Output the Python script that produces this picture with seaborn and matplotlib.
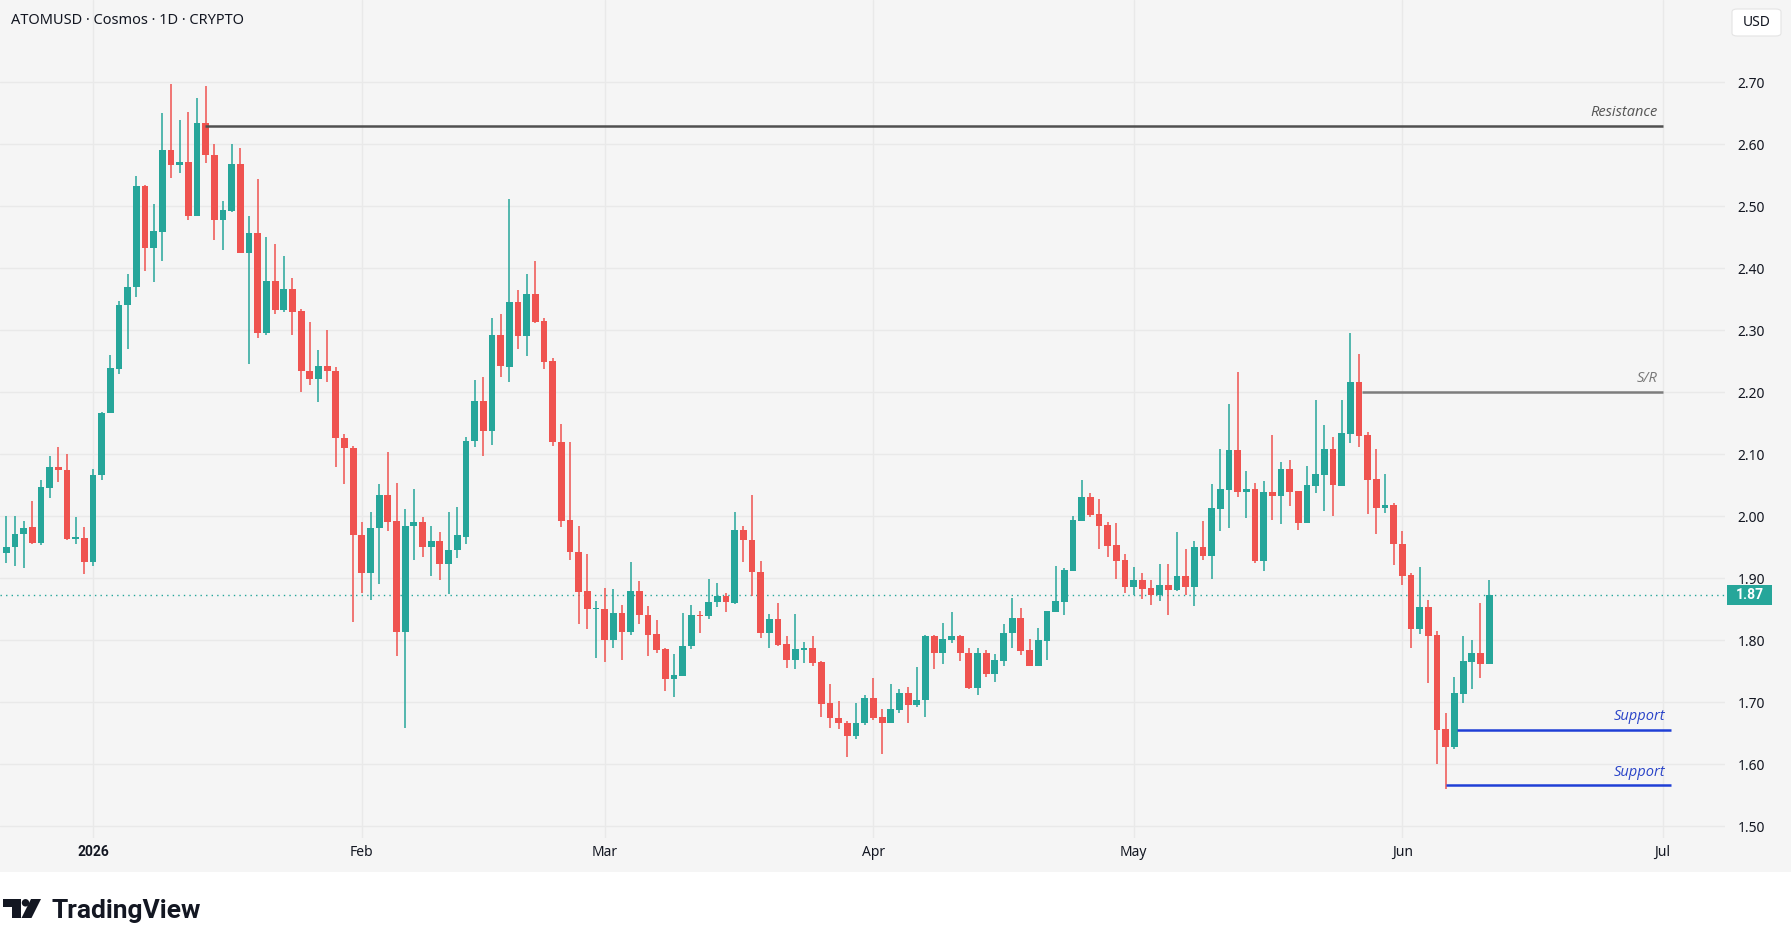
import pandas as pd
import matplotlib.pyplot as plt
import matplotlib.dates as mdates
import matplotlib.transforms as mtransforms
from matplotlib.patches import Rectangle, FancyBboxPatch, Polygon, Ellipse
import seaborn as sns

# --- DATA: ATOMUSD daily candles ---
start_date = "2025-12-22"

opens = [1.941, 1.950, 1.971, 1.983, 1.957, 2.046, 2.080, 2.075, 1.964, 1.965,
         1.927, 2.066, 2.166, 2.238, 2.340, 2.369, 2.533, 2.432, 2.459, 2.591,
         2.567, 2.572, 2.485, 2.634, 2.583, 2.478, 2.493, 2.568, 2.425, 2.457,
         2.295, 2.380, 2.333, 2.367, 2.331, 2.234, 2.221, 2.243, 2.234, 2.127,
         2.110, 1.970, 1.909, 1.981, 2.035, 1.993, 1.814, 1.984, 1.990, 1.950,
         1.960, 1.923, 1.945, 1.967, 2.122, 2.186, 2.138, 2.293, 2.240, 2.346,
         2.290, 2.359, 2.315, 2.250, 2.120, 1.994, 1.942, 1.879, 1.850, 1.851,
         1.800, 1.844, 1.814, 1.880, 1.841, 1.810, 1.786, 1.737, 1.743, 1.790,
         1.841, 1.839, 1.861, 1.872, 1.860, 1.978, 1.962, 1.910, 1.812, 1.835,
         1.794, 1.769, 1.785, 1.788, 1.765, 1.699, 1.675, 1.667, 1.645, 1.666,
         1.707, 1.676, 1.667, 1.688, 1.715, 1.696, 1.703, 1.807, 1.780, 1.800,
         1.807, 1.779, 1.723, 1.779, 1.746, 1.767, 1.811, 1.836, 1.784, 1.759,
         1.799, 1.846, 1.862, 1.912, 1.993, 2.031, 2.004, 1.986, 1.954, 1.930,
         1.886, 1.897, 1.884, 1.873, 1.889, 1.881, 1.904, 1.886, 1.950, 1.936,
         2.012, 2.043, 2.107, 2.039, 2.044, 1.928, 2.039, 2.033, 2.076, 2.041,
         1.989, 2.049, 2.067, 2.109, 2.049, 2.133, 2.217, 2.131, 2.060, 2.013,
         2.018, 1.955, 1.905, 1.818, 1.854, 1.809, 1.657, 1.628, 1.714, 1.765,
         1.780, 1.762]
highs = [2.000, 2.000, 1.992, 2.025, 2.059, 2.097, 2.112, 2.100, 1.999, 1.983,
         2.076, 2.168, 2.260, 2.347, 2.391, 2.549, 2.534, 2.504, 2.650, 2.698,
         2.639, 2.652, 2.675, 2.694, 2.600, 2.509, 2.600, 2.594, 2.484, 2.544,
         2.450, 2.439, 2.419, 2.384, 2.335, 2.314, 2.268, 2.301, 2.241, 2.132,
         2.113, 1.991, 2.007, 2.052, 2.104, 2.054, 2.012, 2.044, 1.999, 1.985,
         1.975, 2.007, 2.015, 2.128, 2.220, 2.225, 2.320, 2.326, 2.512, 2.365,
         2.391, 2.412, 2.320, 2.256, 2.149, 2.120, 1.985, 1.939, 1.863, 1.885,
         1.883, 1.857, 1.926, 1.896, 1.856, 1.833, 1.788, 1.778, 1.844, 1.857,
         1.847, 1.899, 1.893, 1.876, 2.007, 1.985, 2.034, 1.928, 1.842, 1.860,
         1.807, 1.842, 1.797, 1.807, 1.767, 1.730, 1.702, 1.670, 1.699, 1.712,
         1.739, 1.689, 1.730, 1.722, 1.725, 1.757, 1.809, 1.809, 1.828, 1.846,
         1.809, 1.788, 1.788, 1.785, 1.778, 1.826, 1.868, 1.852, 1.802, 1.820,
         1.847, 1.920, 1.917, 2.001, 2.059, 2.038, 2.028, 1.991, 1.989, 1.939,
         1.918, 1.909, 1.897, 1.923, 1.923, 1.975, 1.947, 1.960, 1.993, 2.052,
         2.109, 2.181, 2.233, 2.073, 2.054, 2.057, 2.131, 2.088, 2.091, 2.041,
         2.081, 2.188, 2.147, 2.128, 2.188, 2.296, 2.262, 2.136, 2.109, 2.068,
         2.022, 1.976, 1.909, 1.918, 1.865, 1.815, 1.683, 1.741, 1.807, 1.801,
         1.860, 1.897]
lows = [1.925, 1.919, 1.917, 1.956, 1.953, 2.030, 2.056, 1.961, 1.956, 1.907,
        1.919, 2.059, 2.166, 2.230, 2.269, 2.354, 2.396, 2.378, 2.411, 2.545,
        2.554, 2.478, 2.485, 2.570, 2.446, 2.430, 2.490, 2.424, 2.246, 2.287,
        2.293, 2.327, 2.329, 2.293, 2.201, 2.211, 2.185, 2.217, 2.080, 2.052,
        1.829, 1.877, 1.865, 1.890, 1.976, 1.775, 1.659, 1.930, 1.935, 1.903,
        1.897, 1.875, 1.932, 1.955, 2.111, 2.098, 2.115, 2.224, 2.217, 2.269,
        2.259, 2.311, 2.237, 2.114, 1.982, 1.930, 1.827, 1.819, 1.771, 1.765,
        1.787, 1.769, 1.808, 1.827, 1.774, 1.780, 1.719, 1.708, 1.743, 1.786,
        1.811, 1.835, 1.853, 1.845, 1.859, 1.927, 1.871, 1.803, 1.788, 1.790,
        1.756, 1.754, 1.764, 1.759, 1.677, 1.659, 1.657, 1.611, 1.641, 1.664,
        1.672, 1.616, 1.666, 1.683, 1.667, 1.693, 1.677, 1.753, 1.762, 1.795,
        1.767, 1.721, 1.711, 1.740, 1.732, 1.758, 1.788, 1.777, 1.758, 1.759,
        1.769, 1.846, 1.840, 1.911, 1.993, 1.999, 1.947, 1.934, 1.899, 1.876,
        1.873, 1.867, 1.857, 1.863, 1.841, 1.880, 1.873, 1.855, 1.930, 1.899,
        1.976, 1.981, 2.031, 1.997, 1.925, 1.912, 1.994, 1.988, 2.017, 1.978,
        1.989, 2.038, 2.009, 2.001, 2.049, 2.118, 2.112, 2.004, 1.972, 2.005,
        1.922, 1.889, 1.788, 1.810, 1.731, 1.601, 1.560, 1.625, 1.699, 1.722,
        1.739, 1.762]
closes = [1.951, 1.971, 1.981, 1.957, 2.047, 2.080, 2.074, 1.964, 1.965, 1.927,
          2.067, 2.167, 2.239, 2.341, 2.370, 2.533, 2.432, 2.460, 2.591, 2.567,
          2.572, 2.485, 2.634, 2.582, 2.478, 2.494, 2.568, 2.425, 2.457, 2.295,
          2.380, 2.333, 2.367, 2.330, 2.234, 2.221, 2.243, 2.234, 2.126, 2.110,
          1.969, 1.909, 1.981, 2.035, 1.991, 1.814, 1.985, 1.990, 1.950, 1.960,
          1.923, 1.946, 1.969, 2.122, 2.186, 2.138, 2.293, 2.242, 2.346, 2.290,
          2.359, 2.314, 2.249, 2.119, 1.993, 1.942, 1.878, 1.850, 1.851, 1.800,
          1.844, 1.814, 1.880, 1.840, 1.809, 1.785, 1.737, 1.744, 1.791, 1.841,
          1.839, 1.862, 1.872, 1.861, 1.978, 1.961, 1.910, 1.812, 1.835, 1.793,
          1.769, 1.786, 1.787, 1.764, 1.698, 1.674, 1.666, 1.645, 1.667, 1.707,
          1.675, 1.667, 1.689, 1.715, 1.696, 1.704, 1.807, 1.779, 1.802, 1.807,
          1.779, 1.723, 1.779, 1.745, 1.768, 1.812, 1.836, 1.783, 1.759, 1.800,
          1.847, 1.863, 1.913, 1.994, 2.031, 2.002, 1.984, 1.952, 1.928, 1.886,
          1.897, 1.883, 1.873, 1.889, 1.881, 1.904, 1.886, 1.950, 1.936, 2.013,
          2.044, 2.107, 2.039, 2.044, 1.928, 2.039, 2.033, 2.076, 2.039, 1.989,
          2.051, 2.068, 2.109, 2.051, 2.134, 2.217, 2.130, 2.059, 2.013, 2.018,
          1.955, 1.904, 1.818, 1.854, 1.807, 1.655, 1.628, 1.715, 1.767, 1.780,
          1.762, 1.873]

month_ticks = ["2026-01-01", "2026-02-01", "2026-03-01", "2026-04-01",
               "2026-05-01", "2026-06-01", "2026-07-01"]
month_labels = ["2026", "Feb", "Mar", "Apr", "May", "Jun", "Jul"]
price_ticks = [1.50, 1.60, 1.70, 1.80, 1.90, 2.00, 2.10, 2.20, 2.30, 2.40, 2.50, 2.60, 2.70]

# drawn levels
level_names = ["Resistance", "S/R", "Support", "Support"]
level_prices = [2.630, 2.201, 1.656, 1.566]
level_start = ["2026-01-13 22:00", "2026-05-27 07:00", "2026-06-07 07:00", "2026-06-06 00:00"]
level_end = ["2026-07-01 00:00", "2026-07-01 00:00", "2026-07-01 22:00", "2026-07-01 22:00"]
level_colors = ["#505050", "#7d7d7d", "#1f3fd6", "#1f3fd6"]
label_colors = ["#555555", "#777777", "#2a44c8", "#2a44c8"]

last_price = 1.873

# --- FARGER / STIL ---
UP = "#26a69a"
DOWN = "#ef5350"
BG = "#f5f5f5"
GRID = "#e9e9e9"
TXT = "#131722"

sns.set_theme(style="white")
plt.rcParams["font.family"] = ["Noto Sans", "DejaVu Sans"]

W, H = 1791, 947
fig = plt.figure(figsize=(W / 100, H / 100), dpi=100)
fig.patch.set_facecolor("white")
fig.add_artist(Rectangle((0, 1 - 872 / H), 1, 872 / H, transform=fig.transFigure,
                         facecolor=BG, edgecolor="none", zorder=0))

ax = fig.add_axes([0, 1 - 838 / H, 1725 / W, 838 / H])
ax.set_facecolor(BG)
for s in ax.spines.values():
    s.set_visible(False)

df = pd.DataFrame({
    "date": pd.date_range(start_date, periods=len(opens), freq="D"),
    "open": opens, "high": highs, "low": lows, "close": closes,
})
df["x"] = mdates.date2num(df["date"])
df["up"] = df["close"] >= df["open"]
df["color"] = df["up"].map({True: UP, False: DOWN})
df["bottom"] = df[["open", "close"]].min(axis=1)
df["height"] = (df["close"] - df["open"]).abs().clip(lower=0.0018)

# --- LYS / STAKER ---
ax.vlines(df["x"], df["low"], df["high"], colors=df["color"], linewidth=1.1, zorder=2)
ax.bar(df["x"], df["height"], bottom=df["bottom"], width=0.78, color=df["color"],
       linewidth=0, zorder=3)

x0 = mdates.date2num(pd.Timestamp(start_date))
ax.set_xlim(x0 - 0.727, x0 + 198.2)
ax.set_ylim(1.4811, 2.8327)

ax.set_xticks(mdates.date2num(pd.to_datetime(month_ticks)))
ax.set_xticklabels(month_labels)
ax.set_yticks(price_ticks)
ax.set_yticklabels([f"{p:.2f}" for p in price_ticks])
ax.yaxis.tick_right()
ax.tick_params(axis="both", length=0, colors=TXT, labelsize=10)
ax.tick_params(axis="x", pad=5)
ax.tick_params(axis="y", pad=9)
first = ax.get_xticklabels()[0]
first.set_fontweight("bold")
first.set_family(["Roboto", "DejaVu Sans"])
ax.grid(True, color=GRID, linewidth=1)
ax.set_axisbelow(True)

# siste pris
ax.axhline(last_price, color=UP, linewidth=1, linestyle=(0, (1, 3)), zorder=1)
blend = mtransforms.blended_transform_factory(ax.transAxes, ax.transData)
ax.add_patch(Rectangle((1727 / 1725, last_price - 10 / 620), 45 / 1725, 20 / 620,
                       transform=blend, facecolor=UP, edgecolor="none",
                       clip_on=False, zorder=5))
ax.text(1749.5 / 1725, last_price, f"{last_price:.2f}", transform=blend, ha="center",
        va="center", color="white", fontsize=10, fontweight="bold", zorder=6,
        family=["Roboto", "DejaVu Sans"])

# nivåer
for name, p, s, e, lc, tc in zip(level_names, level_prices, level_start, level_end,
                                 level_colors, label_colors):
    xs = mdates.date2num(pd.Timestamp(s))
    xe = mdates.date2num(pd.Timestamp(e))
    ax.plot([xs, xe], [p, p], color=lc, linewidth=1.8, zorder=4,
            solid_capstyle="butt")
    ax.annotate(name, (xe, p), xytext=(-5, 13), textcoords="offset pixels",
                ha="right", va="center", color=tc, fontsize=10.5, style="italic",
                family=["Open Sans", "DejaVu Sans"])

# --- TOPPTEKST / USD ---
fig.text(11 / W, 1 - 20 / H, "ATOMUSD · Cosmos · 1D · CRYPTO", ha="left", va="center",
         fontsize=10.5, color=TXT)
fig.add_artist(FancyBboxPatch((1732 / W, 1 - 36 / H), 49 / W, 27 / H,
                              boxstyle="round,pad=0,rounding_size=0.003",
                              transform=fig.transFigure, facecolor="white",
                              edgecolor="#e4e4e4", linewidth=0.8))
fig.text(1756.5 / W, 1 - 22.5 / H, "USD", ha="center", va="center", fontsize=10, color=TXT)

# --- TradingView-logo ---
def fp(x, y):
    return (x / W, 1 - y / H)

fig.add_artist(Polygon([fp(3, 899), fp(21, 899), fp(21, 918), fp(12, 918), fp(12, 906.5),
                        fp(3, 906.5)], closed=True, transform=fig.transFigure,
                       facecolor=TXT, edgecolor="none"))
fig.add_artist(Ellipse(fp(25.5, 902.8), 7.5 / W, 7.5 / H, transform=fig.transFigure,
                       facecolor=TXT, edgecolor="none"))
fig.add_artist(Polygon([fp(31, 899), fp(41, 899), fp(31.5, 918), fp(21.5, 918)],
                       closed=True, transform=fig.transFigure,
                       facecolor=TXT, edgecolor="none"))
fig.text(52 / W, 1 - 918 / H, "TradingView", ha="left", va="baseline", fontsize=19,
         fontweight="bold", color=TXT, family=["Roboto", "DejaVu Sans"])

fig.savefig("out.png", dpi=100, facecolor="white")
